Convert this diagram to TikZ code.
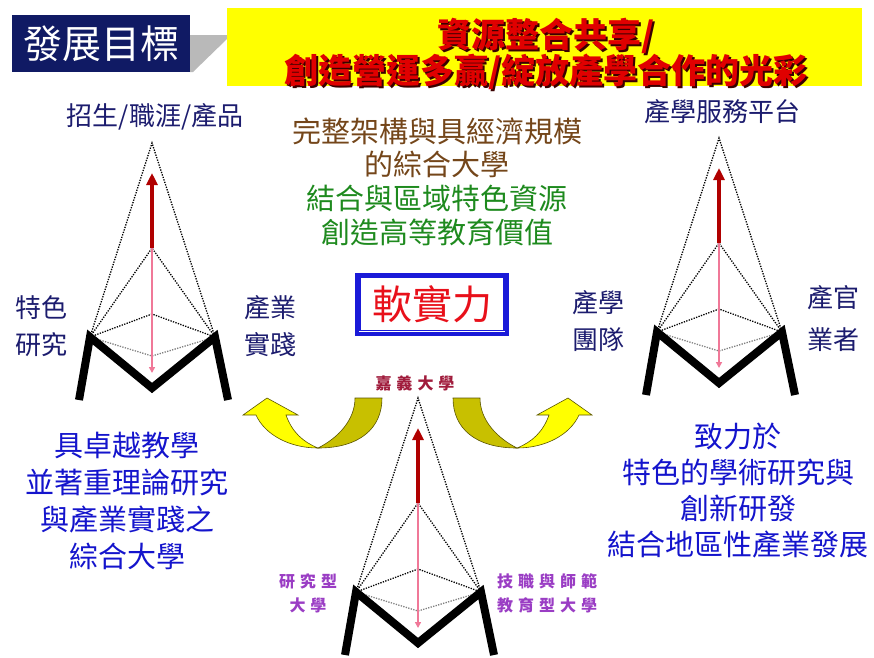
\documentclass[tikz,border=0pt]{standalone}
\usepackage{fontspec}
\newfontfamily\cjk{Noto Sans CJK TC}
\usetikzlibrary{arrows.meta}

\definecolor{navybox}{HTML}{101A64}
\definecolor{labelnavy}{HTML}{1C1C6E}
\definecolor{brownline}{HTML}{74461A}
\definecolor{greenline}{HTML}{1E8A1E}
\definecolor{textblue}{HTML}{1414CC}
\definecolor{softred}{HTML}{E8101A}
\definecolor{boxblue}{HTML}{1A1AD8}
\definecolor{univred}{HTML}{A01C3C}
\definecolor{typepurple}{HTML}{9A3DC4}
\definecolor{ribbon}{HTML}{FFFF00}
\definecolor{ribbonback}{HTML}{C8C000}
\definecolor{ribbonedge}{HTML}{5A5400}
\definecolor{arrowred}{HTML}{B00000}
\definecolor{arrowpink}{HTML}{F07898}
\definecolor{slogared}{HTML}{E00000}
\definecolor{slogashade}{HTML}{3A0000}

\newcommand{\gapk}{\hspace{5pt}}
% red text with a dark drop shadow
\newcommand{\shadowed}[1]{\rlap{\kern1.8pt\raisebox{-1.8pt}{\color{slogashade}#1}}{\color{slogared}#1}}

% one M-shaped pyramid: #1 prefix, (#2,#3) apex
\newcommand{\tower}[3]{%
  \begin{scope}[shift={(#2,#3)}]
    \coordinate (#1top) at (0,0);
    \coordinate (#1mid) at (0,105);
    \coordinate (#1dia) at (0,171);
    \coordinate (#1low) at (0,213);
    \coordinate (#1l) at (-62,194);
    \coordinate (#1r) at (63,194);
    \coordinate (#1tip) at (0,30);
    \coordinate (#1end) at (0,230);
    \coordinate (#1lf) at (-73,257);
    \coordinate (#1mf) at (0,245);
    \coordinate (#1rf) at (76,257);
  \end{scope}
  \draw[dots] (#1l) -- (#1top) -- (#1r) (#1l) -- (#1mid) -- (#1r) (#1l) -- (#1dia) -- (#1r);
  \draw[dots, gray] (#1l) -- (#1low) -- (#1r);
  \draw[pinkarrow] (#1mid) -- (#1end);
  \draw[redarrow] (#1mid) -- (#1tip);
  \draw[mline] (#1lf) -- (#1l) -- (#1mf) -- (#1r) -- (#1rf);
}

\begin{document}
\begin{tikzpicture}[x=1pt,y=-1pt,
    dots/.style={dash pattern=on 1.3pt off 1.3pt, line width=1.3pt},
    redarrow/.style={arrowred, line width=3.5pt, -{Triangle[length=12pt,width=11pt]}},
    pinkarrow/.style={arrowpink, line width=2.5pt, -{Triangle[length=6pt,width=6pt]}},
    mline/.style={black, line width=8pt, line join=miter},
    lbl/.style={text=labelnavy, align=center, inner sep=0pt, font=\cjk\fontsize{26}{37}\selectfont},
    typelbl/.style={text=typepurple, align=center, inner sep=0pt, font=\cjk\bfseries\fontsize{16}{24}\selectfont},
    bigtxt/.style={align=center, inner sep=0pt, font=\cjk\fontsize{29}{37}\selectfont},
    slogatxt/.style={inner sep=0pt, font=\cjk\bfseries\fontsize{34}{36}\selectfont},
    ribbonfront/.style={fill=ribbon, draw=ribbonedge, line width=0.6pt},
    ribbonrear/.style={fill=ribbonback, draw=ribbonedge, line width=0.6pt}]
    \useasboundingbox (0,0) rectangle (874,657);

    % header
    \fill[gray!55] (190,35) -- (227,35) -- (227,39) -- (193,72) -- (190,72) -- cycle;
    \node[fill=navybox, minimum width=178pt, minimum height=57pt, text=white, font=\cjk\fontsize{39}{40}\selectfont] (goal) at (101,43.5) {發展目標};
    \node[fill=ribbon, minimum width=635pt, minimum height=78pt] (slogan) at (544.5,47) {};
    \node[slogatxt] (sloganone) at (546,37) {\shadowed{資源整合共享/}};
    \node[slogatxt] (slogantwo) at (546,73) {\shadowed{創造營運多贏/綻放產學合作的光彩}};

    % three pyramids
    \tower{a}{152}{143}   % left
    \tower{b}{719}{138}   % right
    \tower{c}{418}{398}   % bottom

    \node[lbl] (atop) at (155,117) {招生/職涯/產品};
    \node[lbl] (aleft) at (41,326) {特色\\研究};
    \node[lbl] (aright) at (270,326) {產業\\實踐};
    \node[lbl] (btop) at (722,112) {產學服務平台};
    \node[lbl] (bleft) at (598,321) {產學\\團隊};
    \node[lbl, font=\cjk\fontsize{26}{42}\selectfont] (bright) at (833,318) {產官\\業者};
    \node[text=univred, inner sep=0pt, font=\cjk\bfseries\fontsize{16}{20}\selectfont] (ctop) at (415,383) {嘉\gapk 義\gapk 大\gapk 學};
    \node[typelbl] (cleft) at (308,593) {研\gapk 究\gapk 型\\大\gapk 學};
    \node[typelbl] (cright) at (547,593) {技\gapk 職\gapk 與\gapk 師\gapk 範\\教\gapk 育\gapk 型\gapk 大\gapk 學};

    % centre
    \node[bigtxt, text=brownline, font=\cjk\fontsize{29}{33}\selectfont] (scale) at (437,148) {完整架構與具經濟規模\\的綜合大學};
    \node[bigtxt, text=greenline, font=\cjk\fontsize{29}{34}\selectfont] (region) at (437,216) {結合與區域特色資源\\創造高等教育價值};
    \node[draw=boxblue, line width=4pt, minimum width=150pt, minimum height=59pt, text=softred, font=\cjk\fontsize{40}{40}\selectfont] (soft) at (432,304) {軟實力};
    \draw[boxblue, line width=1.2pt] ([shift={(5,5)}]soft.north west) rectangle ([shift={(-5,-5)}]soft.south east);

    % side texts
    \node[bigtxt, text=textblue] (lefttext) at (127,501) {具卓越教學\\並著重理論研究\\與產業實踐之\\綜合大學};
    \node[bigtxt, text=textblue, font=\cjk\fontsize{29}{36}\selectfont] (righttext) at (738,491) {致力於\\特色的學術研究與\\創新研發\\結合地區性產業發展};

    % twisted arrows
    \draw[ribbonrear] (355,398) -- (382,398) .. controls (382,428) and (360,448) .. (318,448) .. controls (338,438) and (355,420) .. (355,398) -- cycle;
    \draw[ribbonfront] (267,398) -- (298,415) -- (286,415) .. controls (292,432) and (303,442) .. (318,448) .. controls (290,448) and (265,435) .. (256,415) -- (243,415) -- cycle;
    \begin{scope}[shift={(835,0)}, xscale=-1]
      \draw[ribbonrear] (355,398) -- (382,398) .. controls (382,428) and (360,448) .. (318,448) .. controls (338,438) and (355,420) .. (355,398) -- cycle;
      \draw[ribbonfront] (267,398) -- (298,415) -- (286,415) .. controls (292,432) and (303,442) .. (318,448) .. controls (290,448) and (265,435) .. (256,415) -- (243,415) -- cycle;
    \end{scope}
\end{tikzpicture}
\end{document}
